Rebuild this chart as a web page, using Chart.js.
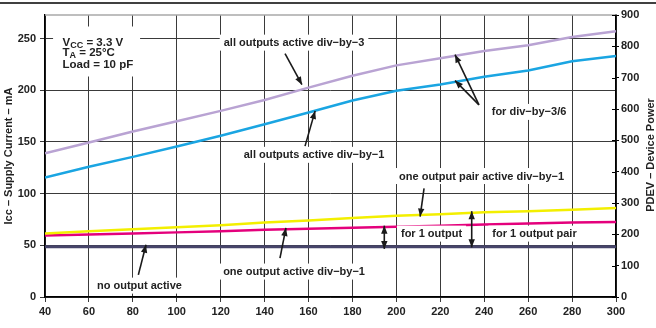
<!DOCTYPE html>
<html>
<head>
<meta charset="utf-8">
<script src="https://cdn.jsdelivr.net/npm/chart.js@4.4.1/dist/chart.umd.min.js"></script>
<style>
  html, body { margin: 0; padding: 0; background: #fff; overflow: hidden; }
  canvas { display: block; }
</style>
</head>
<body>
<canvas id="chart" width="656" height="342"></canvas>
<script>
// Output frequency, MHz
const freqMHz = [40, 60, 80, 100, 120, 140, 160, 180, 200, 220, 240, 260, 280, 300];

// Supply current, mA
const allDiv3 = [139, 149.5, 160, 170, 180, 190.5, 202.5, 214, 224, 231, 238, 243.5, 251.5, 257];
const allDiv1 = [115.5, 126, 135.5, 145.5, 156, 167, 178.5, 190, 199.5, 205.5, 213, 219, 228, 233];
const pairDiv1 = [61.5, 63.5, 65.5, 67.5, 69.5, 72, 74, 76.5, 78.5, 80, 82, 83, 84.5, 86];
const oneDiv1 = [59.5, 60.5, 61.5, 62.5, 63.5, 65, 66, 67, 68, 69, 70, 71, 72, 72.5];
const noOutput = [48.5, 48.5, 48.5, 48.5, 48.5, 48.5, 48.5, 48.5, 48.5, 48.5, 48.5, 48.5, 48.5, 48.5];

// Tick labels
const freqTicks = [40, 60, 80, 100, 120, 140, 160, 180, 200, 220, 240, 260, 280, 300];
const currentTicks = [0, 50, 100, 150, 200, 250];
const powerTicks = [0, 100, 200, 300, 400, 500, 600, 700, 800, 900];

const VCC = 3.3; // power axis = current * VCC

const FONT = "'Liberation Sans', Arial, sans-serif";

// callouts, placed in data units (MHz, mA)
const notes = [
  { text: "all outputs active div\u2212by\u22123", x: 153.4, y: 246 },
  { text: "all outputs active div\u2212by\u22121", x: 162.5, y: 137.5 },
  { text: "for div\u2212by\u22123/6", x: 260.4, y: 179 },
  { text: "one output pair active div\u2212by\u22121", x: 238.8, y: 117 },
  { text: "for 1 output", x: 216, y: 61.3 },
  { text: "for 1 output pair", x: 262.9, y: 61.3 },
  { text: "no output active", x: 83, y: 11 },
  { text: "one output active div\u2212by\u22121", x: 153.4, y: 24.6 },
];

const arrows = [
  { from: [149.3, 235.4], to: [157, 205.3] },
  { from: [158.4, 145.9], to: [163, 180] },
  { from: [237.6, 185.8], to: [226.7, 234.4] },
  { from: [237.6, 185.8], to: [226.7, 209.3] },
  { from: [212.6, 105], to: [210.8, 77.8] },
  { from: [194.5, 69], to: [194.5, 46.5], both: true },
  { from: [234.3, 83], to: [234.3, 48], both: true },
  { from: [82.5, 21.4], to: [86, 50.6] },
  { from: [147, 37.6], to: [149.7, 66.8] },
];

function toPoints(ys) {
  return freqMHz.map((f, i) => ({ x: f, y: ys[i] }));
}

function arrowHead(ctx, x0, y0, x1, y1) {
  const a = Math.atan2(y1 - y0, x1 - x0);
  const len = 8, half = 3.2;
  ctx.beginPath();
  ctx.moveTo(x1, y1);
  ctx.lineTo(x1 - len * Math.cos(a) + half * Math.sin(a), y1 - len * Math.sin(a) - half * Math.cos(a));
  ctx.lineTo(x1 - len * Math.cos(a) - half * Math.sin(a), y1 - len * Math.sin(a) + half * Math.cos(a));
  ctx.closePath();
  ctx.fill();
}

// frame line, plot top edge, right title, callouts and arrows
const decorations = {
  id: "decorations",
  beforeDraw(chart) {
    const { ctx, width } = chart;
    ctx.save();
    ctx.strokeStyle = "#000";
    ctx.lineWidth = 1.5;
    ctx.beginPath();
    ctx.moveTo(0, 3);
    ctx.lineTo(width, 3);
    ctx.stroke();
    ctx.restore();
  },
  afterDatasetsDraw(chart) {
    const { ctx, chartArea } = chart;
    const xs = chart.scales.x, ys = chart.scales.y;
    ctx.save();

    // plot top edge
    ctx.strokeStyle = "#a8a8a8";
    ctx.lineWidth = 1.5;
    ctx.beginPath();
    ctx.moveTo(chartArea.left, chartArea.top);
    ctx.lineTo(chartArea.right, chartArea.top);
    ctx.stroke();

    // inner half of the right axis ticks
    const y2 = chart.scales.y2;
    ctx.strokeStyle = "#000";
    ctx.lineWidth = 1;
    y2.ticks.forEach((t) => {
      const py = Math.round(y2.getPixelForValue(t.value)) + 0.5;
      ctx.beginPath();
      ctx.moveTo(chartArea.right - 4, py);
      ctx.lineTo(chartArea.right, py);
      ctx.stroke();
    });

    // callout labels on white
    ctx.font = "bold 11px " + FONT;
    ctx.textAlign = "center";
    ctx.textBaseline = "middle";
    notes.forEach((n) => {
      const px = xs.getPixelForValue(n.x), py = ys.getPixelForValue(n.y);
      const w = ctx.measureText(n.text).width;
      ctx.fillStyle = "#fff";
      ctx.fillRect(px - w / 2 - 4, py - 8, w + 8, 16);
      ctx.fillStyle = "#222";
      ctx.fillText(n.text, px, py + 0.5);
    });

    // conditions box
    const bx = xs.getPixelForValue(48), by = ys.getPixelForValue(250);
    ctx.fillStyle = "#fff";
    ctx.fillRect(bx - 9.5, by - 12, 87, 50);
    ctx.fillStyle = "#222";
    ctx.textAlign = "left";
    ctx.textBaseline = "alphabetic";
    const line = (main, sub, rest, y) => {
      let x = bx;
      ctx.font = "bold 11.5px " + FONT;
      ctx.fillText(main, x, y);
      x += ctx.measureText(main).width;
      if (sub) {
        ctx.font = "bold 9px " + FONT;
        ctx.fillText(sub, x, y + 2);
        x += ctx.measureText(sub).width;
      }
      ctx.font = "bold 11.5px " + FONT;
      ctx.fillText(rest, x, y);
    };
    line("V", "CC", " = 3.3 V", by + 7.5);
    line("T", "A", " = 25\u00b0C", by + 17.5);
    line("Load = 10 pF", "", "", by + 29.5);

    // arrows
    ctx.strokeStyle = "#1a1a1a";
    ctx.fillStyle = "#1a1a1a";
    ctx.lineWidth = 1.6;
    arrows.forEach((a) => {
      const x0 = xs.getPixelForValue(a.from[0]), y0 = ys.getPixelForValue(a.from[1]);
      const x1 = xs.getPixelForValue(a.to[0]), y1 = ys.getPixelForValue(a.to[1]);
      ctx.beginPath();
      ctx.moveTo(x0, y0);
      ctx.lineTo(x1, y1);
      ctx.stroke();
      arrowHead(ctx, x0, y0, x1, y1);
      if (a.both) arrowHead(ctx, x1, y1, x0, y0);
    });

    // right axis title, reading bottom to top
    ctx.font = "bold 11px " + FONT;
    ctx.textAlign = "center";
    ctx.textBaseline = "middle";
    ctx.fillStyle = "#222";
    ctx.translate(651, (chartArea.top + chartArea.bottom) / 2 - 1);
    ctx.rotate(-Math.PI / 2);
    ctx.fillText("PDEV \u2013 Device Power", 0, 0);
    ctx.restore();
  },
};

const ctx = document.getElementById("chart");

new Chart(ctx, {
  type: "line",
  data: {
    datasets: [
      { data: toPoints(allDiv3), borderColor: "#b9a3d3", borderWidth: 2.5 },
      { data: toPoints(allDiv1), borderColor: "#1aa5e2", borderWidth: 2.5 },
      { data: toPoints(pairDiv1), borderColor: "#f3ef00", borderWidth: 2.5 },
      { data: toPoints(oneDiv1), borderColor: "#e4007c", borderWidth: 2.5 },
      { data: toPoints(noOutput), borderColor: "#46446a", borderWidth: 3 },
    ],
  },
  options: {
    responsive: false,
    animation: false,
    events: [],
    elements: { point: { radius: 0 }, line: { tension: 0 } },
    layout: { padding: { top: 15 } },
    plugins: { legend: { display: false }, tooltip: { enabled: false } },
    scales: {
      x: {
        type: "linear",
        min: 40,
        max: 300,
        afterBuildTicks: (s) => { s.ticks = freqTicks.map((v) => ({ value: v })); },
        afterFit: (s) => { s.height = 45; },
        ticks: { color: "#222", font: { family: FONT, size: 11, weight: "bold" }, padding: 3, maxRotation: 0 },
        grid: { color: "#3a3a3a", lineWidth: 1, tickLength: 5 },
        border: { color: "#000", width: 1.5 },
        title: {
          display: true,
          text: "f \u2013 Output Frequency \u2013 MHz",
          color: "#222",
          font: { family: FONT, size: 11, weight: "bold" },
          padding: { top: 0, bottom: 2 },
        },
      },
      y: {
        min: 0,
        max: 900 / VCC,
        afterBuildTicks: (s) => { s.ticks = currentTicks.map((v) => ({ value: v })); },
        afterFit: (s) => { s.width = 45; },
        ticks: { color: "#222", font: { family: FONT, size: 11, weight: "bold" }, padding: 4 },
        grid: { color: "#3a3a3a", lineWidth: 1, tickLength: 5 },
        border: { color: "#000", width: 1.5 },
        title: {
          display: true,
          text: "Icc \u2013 Supply Current \u2013 mA",
          color: "#222",
          font: { family: FONT, size: 11, weight: "bold" },
          padding: { top: 2, bottom: 0 },
        },
      },
      y2: {
        position: "right",
        min: 0,
        max: 900,
        afterBuildTicks: (s) => { s.ticks = powerTicks.map((v) => ({ value: v })); },
        afterFit: (s) => { s.width = 40; },
        ticks: { color: "#222", font: { family: FONT, size: 11, weight: "bold" }, padding: 2 },
        grid: { drawOnChartArea: false, color: "#000", tickLength: 3 },
        border: { color: "#000", width: 1.5 },
      },
    },
  },
  plugins: [decorations],
});
</script>
</body>
</html>
